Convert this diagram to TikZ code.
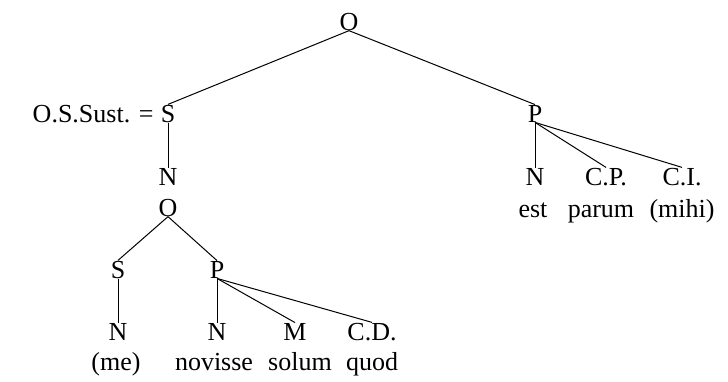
\documentclass[tikz,border=0pt]{standalone}
\usepackage{fontspec}
\setmainfont{Liberation Serif}
\usetikzlibrary{positioning}

\begin{document}
\begin{tikzpicture}[
    x=0.5pt, y=-0.5pt,
    every node/.style={font=\fontsize{13}{15}\selectfont, inner sep=0pt, anchor=base},
    cat/.style={},
    word/.style={},
    branch/.style={line width=0.5pt}
]
\useasboundingbox (0,0) rectangle (728,381);

% main clause
\node[cat] (o)  at (349,30)  {O};
\node[cat] (s)  at (168,122) {S};
\node[anchor=base east] (ssust) at (154,122) {O.S.Sust. =};
\node[cat] (p)  at (535,122) {P};

\draw[branch] (o.south) -- (s.north);
\draw[branch] (o.south) -- (p.north);

% predicate
\node[cat] (pn)  at (535,185) {N};
\node[cat] (pcp) at (606,185) {C.P.};
\node[cat] (pci) at (682,185) {C.I.};
\node[word] (est)   at (533,217) {est};
\node[word] (parum) at (601,217) {parum};
\node[word] (mihi)  at (682,217) {(mihi)};

\draw[branch] (p.south) -- (pn.north);
\draw[branch] (p.south) -- (pcp.north);
\draw[branch] (p.south) -- (pci.north);

% subject: noun clause
\node[cat] (sn) at (168,185) {N};
\node[cat] (so) at (168,216) {O};
\draw[branch] (s.south) -- (sn.north);

\node[cat] (ss) at (118,278) {S};
\node[cat] (sp) at (217,278) {P};
\draw[branch] (so.south) -- (ss.north);
\draw[branch] (so.south) -- (sp.north);

\node[cat] (ssn) at (118,340) {N};
\node[cat] (spn) at (217,340) {N};
\node[cat] (spm) at (295,340) {M};
\node[cat] (spd) at (372,340) {C.D.};
\node[word] (me)      at (116,370) {(me)};
\node[word] (novisse) at (214,370) {novisse};
\node[word] (solum)   at (300,370) {solum};
\node[word] (quod)    at (372,370) {quod};

\draw[branch] (ss.south) -- (ssn.north);
\draw[branch] (sp.south) -- (spn.north);
\draw[branch] (sp.south) -- (spm.north);
\draw[branch] (sp.south) -- (spd.north);

\end{tikzpicture}
\end{document}
